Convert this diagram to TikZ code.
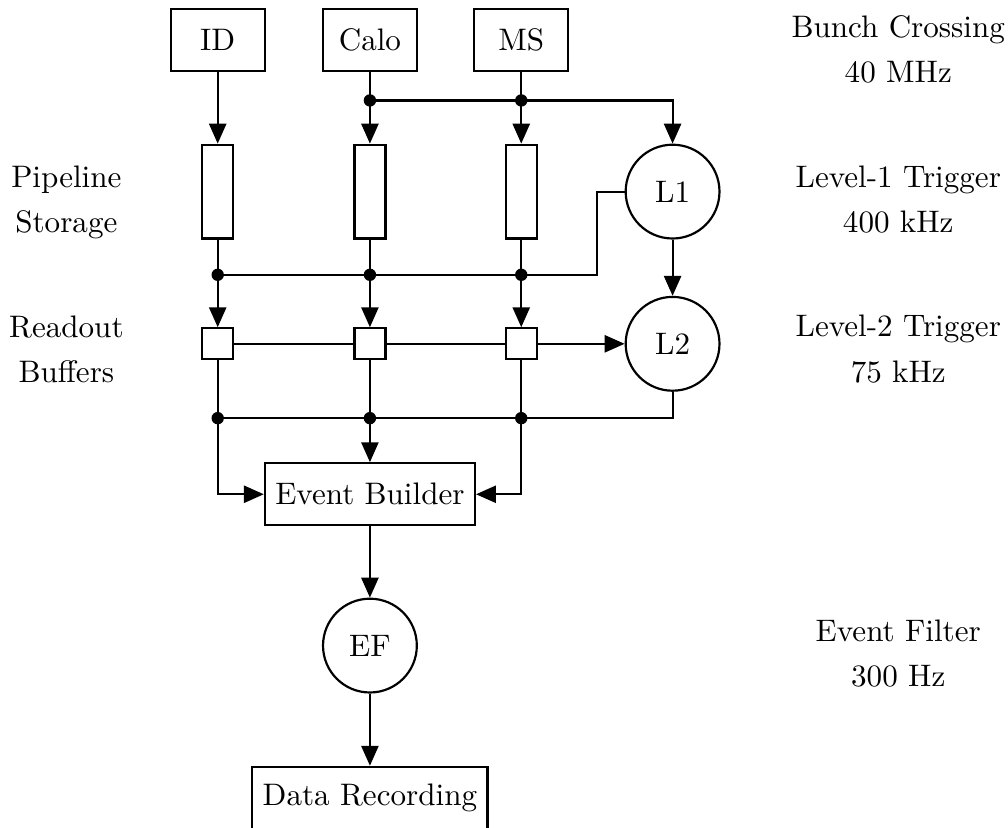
\documentclass[tikz,border=0pt]{standalone}
\usetikzlibrary{arrows.meta}
\def\joint#1{\fill (#1) circle (0.07);}
\tikzset{
  box/.style={draw, minimum width=1.06cm, minimum height=0.7cm},
  pipe/.style={draw, minimum width=0.35cm, minimum height=1.06cm, inner sep=0pt},
  buf/.style={draw, minimum size=0.35cm, inner sep=0pt},
  trig/.style={draw, circle, minimum size=1.06cm, inner sep=0pt},
  lbl/.style={align=center},
  arr/.style={-{Triangle[length=6.4pt,width=5.5pt]}}
}
\begin{document}
\begin{tikzpicture}[line width=0.7pt]
		%%%%% START %%%%%
		\useasboundingbox (0, 0) rectangle (11.39, 9.345);
		
		\node[box] (ID) at (2.46, 8.89) {ID};
		\node[box] (Calo) at (4.18, 8.89) {Calo};
		\node[box] (MS) at (5.89, 8.89) {MS};
		
		\node[pipe] (pipeID) at (2.46, 7.18) {};
		\node[pipe] (pipeCalo) at (4.18, 7.18) {};
		\node[pipe] (pipeMS) at (5.89, 7.18) {};
		\node[trig] (L1) at (7.60, 7.18) {L1};
		
		\node[buf] (bufID) at (2.46, 5.46) {};
		\node[buf] (bufCalo) at (4.18, 5.46) {};
		\node[buf] (bufMS) at (5.89, 5.46) {};
		\node[trig] (L2) at (7.60, 5.46) {L2};
		
		\node[draw, minimum height=0.7cm] (EB) at (4.18, 3.76) {Event Builder};
		\node[trig] (EF) at (4.18, 2.05) {EF};
		\node[draw, minimum height=0.7cm] (DR) at (4.18, 0.33) {Data Recording};
		
		% junctions
		\coordinate (jCalo1) at (4.18, 8.21);
		\coordinate (jMS1) at (5.89, 8.21);
		\coordinate (jID2) at (2.46, 6.24);
		\coordinate (jCalo2) at (4.18, 6.24);
		\coordinate (jMS2) at (5.89, 6.24);
		\coordinate (fb) at (6.75, 6.24);
		\coordinate (jID3) at (2.46, 4.62);
		\coordinate (jCalo3) at (4.18, 4.62);
		\coordinate (jMS3) at (5.89, 4.62);
		
		\draw[arr] (ID) -- (pipeID);
		\draw[arr] (Calo) -- (pipeCalo);
		\draw[arr] (MS) -- (pipeMS);
		\draw[arr] (jCalo1) -| (L1);
		
		\draw[arr] (pipeID) -- (bufID);
		\draw[arr] (pipeCalo) -- (bufCalo);
		\draw[arr] (pipeMS) -- (bufMS);
		\draw (L1) -| (fb) -- (jID2);
		\draw[arr] (L1) -- (L2);
		
		\draw (bufID) -- (bufCalo);
		\draw (bufCalo) -- (bufMS);
		\draw[arr] (bufMS) -- (L2);
		
		\draw (L2) |- (jID3);
		\draw[arr] (bufID) |- (EB);
		\draw[arr] (bufCalo) -- (EB);
		\draw[arr] (bufMS) |- (EB);
		
		\draw[arr] (EB) -- (EF);
		\draw[arr] (EF) -- (DR);
		
		\joint{jCalo1} \joint{jMS1}
		\joint{jID2} \joint{jCalo2} \joint{jMS2}
		\joint{jID3} \joint{jCalo3} \joint{jMS3}
		
		% labels
		\node[lbl] (lPipe) at (0.75, 7.06) {Pipeline\\[2.6pt]Storage};
		\node[lbl] (lRead) at (0.75, 5.40) {Readout\\[2.6pt]Buffers};
		\node[lbl] (lBC) at (10.15, 8.79) {Bunch Crossing\\[2.6pt]40 MHz};
		\node[lbl] (lL1) at (10.15, 7.09) {Level-1 Trigger\\[2.6pt]400 kHz};
		\node[lbl] (lL2) at (10.15, 5.40) {Level-2 Trigger\\[2.6pt]75 kHz};
		\node[lbl] (lEF) at (10.15, 1.96) {Event Filter\\[2.6pt]300 Hz};
		%%%%% END %%%%%
\end{tikzpicture}
\end{document}
